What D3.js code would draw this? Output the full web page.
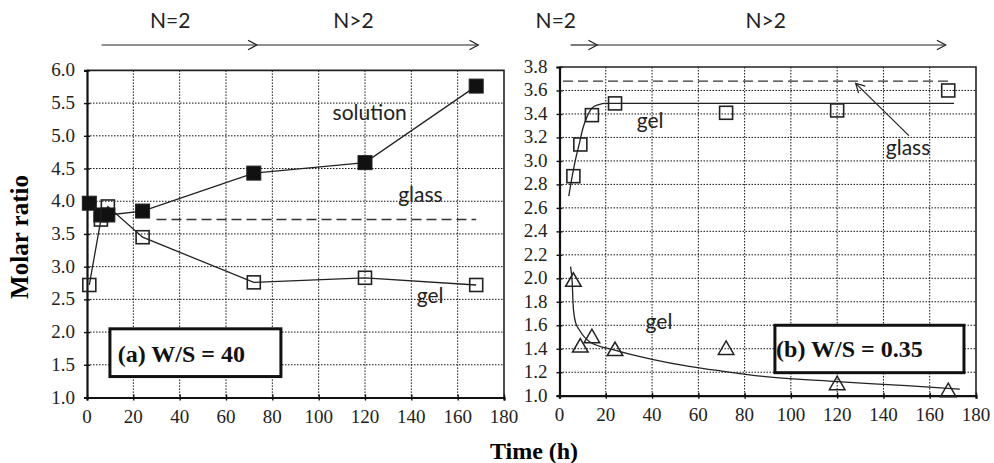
<!DOCTYPE html>
<html>
<head>
<meta charset="utf-8">
<script src="https://cdn.jsdelivr.net/npm/d3@7"></script>
<style>
  body { margin: 0; background: #fff; }
  svg { display: block; }
  .note { font-family: Lato, "Open Sans", sans-serif; font-size: 21px; fill: #222; }
  .boxlabel { font-family: "Liberation Serif", serif; font-weight: bold; font-size: 24px; fill: #111; }
  .ticklabel { font-family: "Liberation Serif", "Times New Roman", serif; font-size: 19px; fill: #222; }
</style>
</head>
<body>
<svg id="chart" width="994" height="463"></svg>
<script>
// ---- data ----
// panel (a) W/S = 40
var timeA = [1, 6, 9, 24, 72, 120, 168];
var solutionA = [3.97, 3.79, 3.79, 3.85, 4.43, 4.59, 5.76];
var gelA = [2.72, 3.72, 3.92, 3.45, 2.76, 2.83, 2.72];
var glassA = 3.72, glassSpanA = [30, 168];

// panel (b) W/S = 0.35
var timeB = [6, 9, 14, 24, 72, 120, 168];
var gelUpB = [2.87, 3.14, 3.39, 3.49, 3.41, 3.43, 3.60];
var gelLowB = [1.97, 1.41, 1.49, 1.38, 1.39, 1.09, 1.03];
var glassB = 3.68, glassSpanB = [1.5, 169];
// fitted curves
var fitUpT = [4, 5.5, 7, 8.6, 10, 12, 14, 17, 20, 170.5];
var fitUpV = [2.70, 2.87, 3.02, 3.15, 3.27, 3.38, 3.45, 3.48, 3.49, 3.49];
var fitLowT = [4.8, 5.5, 6, 7, 8.6, 13, 23.5, 40, 56, 70, 88, 120, 150, 173];
var fitLowV = [2.10, 1.96, 1.74, 1.62, 1.56, 1.46, 1.39, 1.31, 1.25, 1.21, 1.165, 1.12, 1.085, 1.055];

var xTicks = d3.range(0, 181, 20);
var yTicksA = d3.range(1, 6.01, 0.5);
var yTicksB = d3.range(1, 3.81, 0.2);

var svg = d3.select("#chart");

function zip(t, v) { return t.map(function(d, i) { return [d, v[i]]; }); }

// Builds one panel: frame, grid and axes. Returns the scales and a group.
function panel(x0, x1, y0, y1, yDomain, yTicks) {
  var x = d3.scaleLinear().domain([0, 180]).range([x0, x1]);
  var y = d3.scaleLinear().domain(yDomain).range([y0, y1]);
  var g = svg.append("g");
  var fmt = d3.format(".1f");

  // dotted grid
  g.append("g").selectAll("line")
    .data(xTicks.slice(1, -1))
    .enter().append("line")
      .attr("x1", function(d) { return x(d); }).attr("x2", function(d) { return x(d); })
      .attr("y1", y1).attr("y2", y0)
      .attr("stroke", "#111").attr("stroke-width", 1).attr("stroke-dasharray", "1.5,1.5");
  g.append("g").selectAll("line")
    .data(yTicks.slice(1, -1))
    .enter().append("line")
      .attr("y1", function(d) { return y(d); }).attr("y2", function(d) { return y(d); })
      .attr("x1", x0).attr("x2", x1)
      .attr("stroke", "#111").attr("stroke-width", 1).attr("stroke-dasharray", "1.5,1.5");

  // top and right border
  g.append("path")
    .attr("d", "M" + x0 + "," + y1 + "H" + x1 + "V" + y0)
    .attr("fill", "none").attr("stroke", "#222").attr("stroke-width", 1.6);

  // axes: lines and cross ticks from d3, labels drawn as own text
  var ax = g.append("g").attr("transform", "translate(0," + y0 + ")")
    .call(d3.axisBottom(x).tickValues(xTicks).tickSize(3).tickFormat(""));
  ax.select(".domain").attr("stroke", "#111").attr("stroke-width", 2.2);
  ax.selectAll(".tick line").attr("y1", -3).attr("stroke", "#111").attr("stroke-width", 1.4);
  g.append("g").selectAll("text")
    .data(xTicks)
    .enter().append("text").attr("class", "ticklabel")
      .attr("x", function(d) { return x(d); })
      .attr("y", y0 + 25)
      .attr("text-anchor", "middle")
      .text(function(d) { return d; });

  var ay = g.append("g").attr("transform", "translate(" + x0 + ",0)")
    .call(d3.axisLeft(y).tickValues(yTicks).tickSize(3).tickFormat(""));
  ay.select(".domain").attr("stroke", "#111").attr("stroke-width", 2.2);
  ay.selectAll(".tick line").attr("x1", 3).attr("stroke", "#111").attr("stroke-width", 1.4);
  g.append("g").selectAll("text")
    .data(yTicks)
    .enter().append("text").attr("class", "ticklabel")
      .attr("x", x0 - 12)
      .attr("y", function(d) { return y(d) + 6; })
      .attr("text-anchor", "end")
      .text(function(d) { return fmt(d); });

  return { x: x, y: y, g: g };
}

var A = panel(87, 504, 397.5, 70.4, [1, 6], yTicksA);
var B = panel(559.5, 976, 395.7, 67, [1, 3.8], yTicksB);

function lineOf(p, curve) {
  return d3.line()
    .x(function(d) { return p.x(d[0]); })
    .y(function(d) { return p.y(d[1]); })
    .curve(curve || d3.curveLinear);
}

function squares(p, pts, size, filled) {
  p.g.append("g").selectAll("rect")
    .data(pts)
    .enter().append("rect")
      .attr("x", function(d) { return p.x(d[0]) - size / 2; })
      .attr("y", function(d) { return p.y(d[1]) - size / 2; })
      .attr("width", size).attr("height", size)
      .attr("fill", filled ? "#111" : "none")
      .attr("stroke", "#222").attr("stroke-width", filled ? 1 : 1.6);
}

function glassLine(p, v, span) {
  p.g.append("line")
    .attr("x1", p.x(span[0])).attr("x2", p.x(span[1]))
    .attr("y1", p.y(v)).attr("y2", p.y(v))
    .attr("stroke", "#333").attr("stroke-width", 1.4).attr("stroke-dasharray", "10,5");
}

// ---- panel (a) ----
glassLine(A, glassA, glassSpanA);
A.g.append("path").datum(zip(timeA, gelA)).attr("d", lineOf(A))
  .attr("fill", "none").attr("stroke", "#222").attr("stroke-width", 1.3);
A.g.append("path").datum(zip(timeA, solutionA)).attr("d", lineOf(A))
  .attr("fill", "none").attr("stroke", "#222").attr("stroke-width", 1.3);
squares(A, zip(timeA, gelA), 13, false);
squares(A, zip(timeA, solutionA), 14, true);

// ---- panel (b) ----
glassLine(B, glassB, glassSpanB);
B.g.append("path").datum(zip(fitUpT, fitUpV)).attr("d", lineOf(B, d3.curveMonotoneX))
  .attr("fill", "none").attr("stroke", "#222").attr("stroke-width", 1.3);
B.g.append("path").datum(zip(fitLowT, fitLowV)).attr("d", lineOf(B, d3.curveMonotoneX))
  .attr("fill", "none").attr("stroke", "#222").attr("stroke-width", 1.3);
squares(B, zip(timeB, gelUpB), 13, false);

var tri = d3.symbol().type(d3.symbolTriangle).size(105);
B.g.append("g").selectAll("path")
  .data(zip(timeB, gelLowB))
  .enter().append("path")
    .attr("d", tri)
    .attr("transform", function(d) { return "translate(" + B.x(d[0]) + "," + B.y(d[1]) + ")"; })
    .attr("fill", "none").attr("stroke", "#222").attr("stroke-width", 1.5);

// ---- annotations ----
function note(p, t, v, txt) {
  p.g.append("text").attr("class", "note")
    .attr("x", p.x(t)).attr("y", p.y(v)).text(txt);
}
note(A, 106, 5.24, "solution");
note(A, 134.3, 3.99, "glass");
note(A, 142.3, 2.45, "gel");
note(B, 33.4, 3.28, "gel");
note(B, 141, 3.05, "glass");
note(B, 37.2, 1.57, "gel");

function box(p, t0, t1, v0, v1, tx, vx, txt) {
  p.g.append("rect")
    .attr("x", p.x(t0)).attr("y", p.y(v0))
    .attr("width", p.x(t1) - p.x(t0)).attr("height", p.y(v1) - p.y(v0))
    .attr("fill", "#fff").attr("stroke", "#111").attr("stroke-width", 3);
  p.g.append("text").attr("class", "boxlabel")
    .attr("x", p.x(tx)).attr("y", p.y(vx)).text(txt);
}
box(A, 9.9, 83.7, 2.05, 1.32, 13.3, 1.55, "(a) W/S = 40");
box(B, 93.1, 174.8, 1.60, 1.196, 93.6, 1.33, "(b) W/S = 0.35");

// open chevron arrowhead at (x2,y2)
function arrow(x1, y1, x2, y2) {
  var a = Math.atan2(y2 - y1, x2 - x1), L = 10, w = 0.5;
  svg.append("line").attr("x1", x1).attr("y1", y1).attr("x2", x2).attr("y2", y2)
    .attr("stroke", "#222").attr("stroke-width", 1.2);
  svg.append("path")
    .attr("d", "M" + (x2 - L * Math.cos(a - w)) + "," + (y2 - L * Math.sin(a - w)) +
               "L" + x2 + "," + y2 +
               "L" + (x2 - L * Math.cos(a + w)) + "," + (y2 - L * Math.sin(a + w)))
    .attr("fill", "none").attr("stroke", "#222").attr("stroke-width", 1.2);
}

// regime arrows above the panels
var arrowY = 45, labelY = 28;
arrow(A.x(6.3), arrowY, A.x(73.3), arrowY);
arrow(A.x(73.3), arrowY, A.x(168.9), arrowY);
arrow(B.x(4.8), arrowY, B.x(16.3), arrowY);
arrow(B.x(16.3), arrowY, B.x(166.9), arrowY);
[[A, 35.9, "N=2"], [A, 115, "N>2"], [B, -1.6, "N=2"], [B, 89.1, "N>2"]].forEach(function(d) {
  svg.append("text").attr("class", "note").attr("text-anchor", "middle")
    .attr("x", d[0].x(d[1])).attr("y", labelY).text(d[2]);
});

// glass pointer in panel (b)
arrow(B.x(151), B.y(3.215), B.x(128), B.y(3.66));

// axis titles
svg.append("text")
  .attr("transform", "translate(28,237) rotate(-90)")
  .attr("text-anchor", "middle")
  .style("font-family", "Liberation Serif, serif").style("font-weight", "bold").style("font-size", "25px")
  .text("Molar ratio");
svg.append("text")
  .attr("x", 534).attr("y", 459)
  .attr("text-anchor", "middle")
  .style("font-family", "Liberation Serif, serif").style("font-weight", "bold").style("font-size", "24px")
  .text("Time (h)");
</script>
</body>
</html>
